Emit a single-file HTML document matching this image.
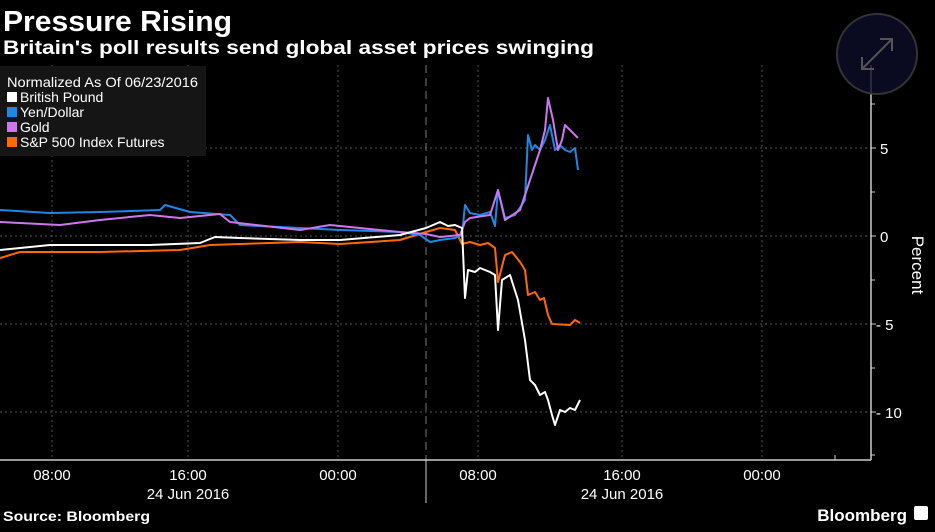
<!DOCTYPE html><html><head><style>body{margin:0;background:#000;width:935px;height:527px;overflow:hidden;font-family:"Liberation Sans",sans-serif}</style></head><body>
<svg width="935" height="527" xmlns="http://www.w3.org/2000/svg" font-family="Liberation Sans, sans-serif">
<rect width="935" height="527" fill="#000"/>
<text x="3" y="31" fill="#fff" font-size="29" font-weight="bold" textLength="229" lengthAdjust="spacingAndGlyphs">Pressure Rising</text>
<text x="3" y="54" fill="#fff" font-size="19" font-weight="bold" textLength="591" lengthAdjust="spacingAndGlyphs">Britain's poll results send global asset prices swinging</text>
<g stroke="#555" stroke-dasharray="2,3" stroke-width="1">
<line x1="0" y1="148" x2="871" y2="148"/><line x1="0" y1="236" x2="871" y2="236"/><line x1="0" y1="324" x2="871" y2="324"/><line x1="0" y1="412" x2="871" y2="412"/>
<line x1="52" y1="65" x2="52" y2="460"/><line x1="188" y1="65" x2="188" y2="460"/><line x1="338" y1="65" x2="338" y2="460"/><line x1="478" y1="65" x2="478" y2="460"/><line x1="622" y1="65" x2="622" y2="460"/><line x1="762" y1="65" x2="762" y2="460"/>
</g>
<line x1="426" y1="65" x2="426" y2="460" stroke="#777" stroke-dasharray="8,5"/>
<rect x="0" y="66" width="206" height="90" fill="#151515"/>
<g font-size="14" fill="#fff">
<text x="7" y="87" textLength="191" lengthAdjust="spacingAndGlyphs">Normalized As Of 06/23/2016</text>
<rect x="7" y="92" width="10" height="10" fill="#fff"/><text x="20" y="102">British Pound</text>
<rect x="7" y="107" width="10" height="10" fill="#1e88e5"/><text x="20" y="117">Yen/Dollar</text>
<rect x="7" y="122" width="10" height="10" fill="#cc77ee"/><text x="20" y="132">Gold</text>
<rect x="7" y="137" width="10" height="10" fill="#ff6a00"/><text x="20" y="147">S&amp;P 500 Index Futures</text>
</g>
<g fill="none" stroke-width="2" stroke-linejoin="round">
<polyline stroke="#ff6a00" points="0,258 20,252 100,252 180,250 210,245 300,242 340,244 400,240 426,232 440,228 455,230 462,244 470,242 480,245 488,243 495,248 498,282 505,255 512,252 520,262 525,270 528,295 535,292 540,300 544,298 548,315 552,324 570,325 575,320 580,323"/>
<polyline stroke="#1e88e5" points="0,210 50,213 100,212 160,210 165,205 190,212 230,215 240,225 300,228 340,230 400,232 420,235 430,242 440,240 455,238 462,235 465,205 470,213 480,215 490,212 495,226 498,190 505,218 515,215 525,200 528,135 532,150 535,145 540,150 545,140 550,125 555,150 560,145 565,150 570,152 575,148 578,170"/>
<polyline stroke="#cc77ee" points="0,222 60,225 100,220 150,215 180,218 220,214 230,222 300,230 330,225 400,232 426,234 440,237 460,235 465,222 470,218 490,215 498,190 505,220 520,210 525,195 530,180 535,165 540,150 545,130 548,98 553,120 558,150 562,140 565,125 572,132 578,138"/>
<polyline stroke="#fff" points="0,250 50,245 150,245 200,243 215,237 240,238 300,240 340,240 400,235 426,228 440,222 448,226 455,225 462,228 465,298 468,270 475,272 480,268 490,272 495,275 498,330 502,280 510,275 518,300 525,340 530,380 535,385 540,395 545,392 548,400 552,415 555,425 560,410 565,412 570,408 575,410 580,400"/>
</g>
<line x1="871" y1="65" x2="871" y2="460" stroke="#ccc" stroke-width="1.5"/>
<line x1="0" y1="460" x2="871" y2="460" stroke="#ccc" stroke-width="1.5"/>
<line x1="426" y1="460" x2="426" y2="503" stroke="#ccc"/>
<g stroke="#ccc"><line x1="871" y1="104" x2="875" y2="104"/><line x1="871" y1="148" x2="876" y2="148"/><line x1="871" y1="192" x2="875" y2="192"/><line x1="871" y1="236" x2="876" y2="236"/><line x1="871" y1="280" x2="875" y2="280"/><line x1="871" y1="324" x2="876" y2="324"/><line x1="871" y1="368" x2="875" y2="368"/><line x1="871" y1="412" x2="876" y2="412"/><line x1="871" y1="455" x2="875" y2="455"/>
<line x1="835" y1="460" x2="835" y2="455"/></g>
<g fill="#fff" font-size="15"><text x="880" y="154">5</text><text x="880" y="242">0</text><text x="876" y="330">- 5</text><text x="876" y="418">- 10</text></g>
<text transform="translate(912,265) rotate(90)" fill="#fff" font-size="17" text-anchor="middle">Percent</text>
<g fill="#fff" font-size="15" text-anchor="middle"><text x="52" y="480">08:00</text><text x="188" y="480">16:00</text><text x="338" y="480">00:00</text><text x="478" y="480">08:00</text><text x="622" y="480">16:00</text><text x="762" y="480">00:00</text>
<text x="188" y="499">24 Jun 2016</text><text x="622" y="499">24 Jun 2016</text></g>
<text x="3" y="521" fill="#fff" font-size="14" font-weight="bold" textLength="147" lengthAdjust="spacingAndGlyphs">Source: Bloomberg</text>
<text x="907" y="521" fill="#fff" font-size="17" font-weight="bold" text-anchor="end">Bloomberg</text>
<rect x="914" y="506" width="14" height="14" rx="2" fill="#fff"/>
<circle cx="877" cy="54" r="40" fill="#0c0c28" fill-opacity="0.8" stroke="#333" stroke-width="2"/>
<path d="M862 69 L892 39 M880 39 L892 39 L892 51 M862 57 L862 69 L874 69" stroke="#555" stroke-width="2" fill="none"/>
</svg></body></html>
